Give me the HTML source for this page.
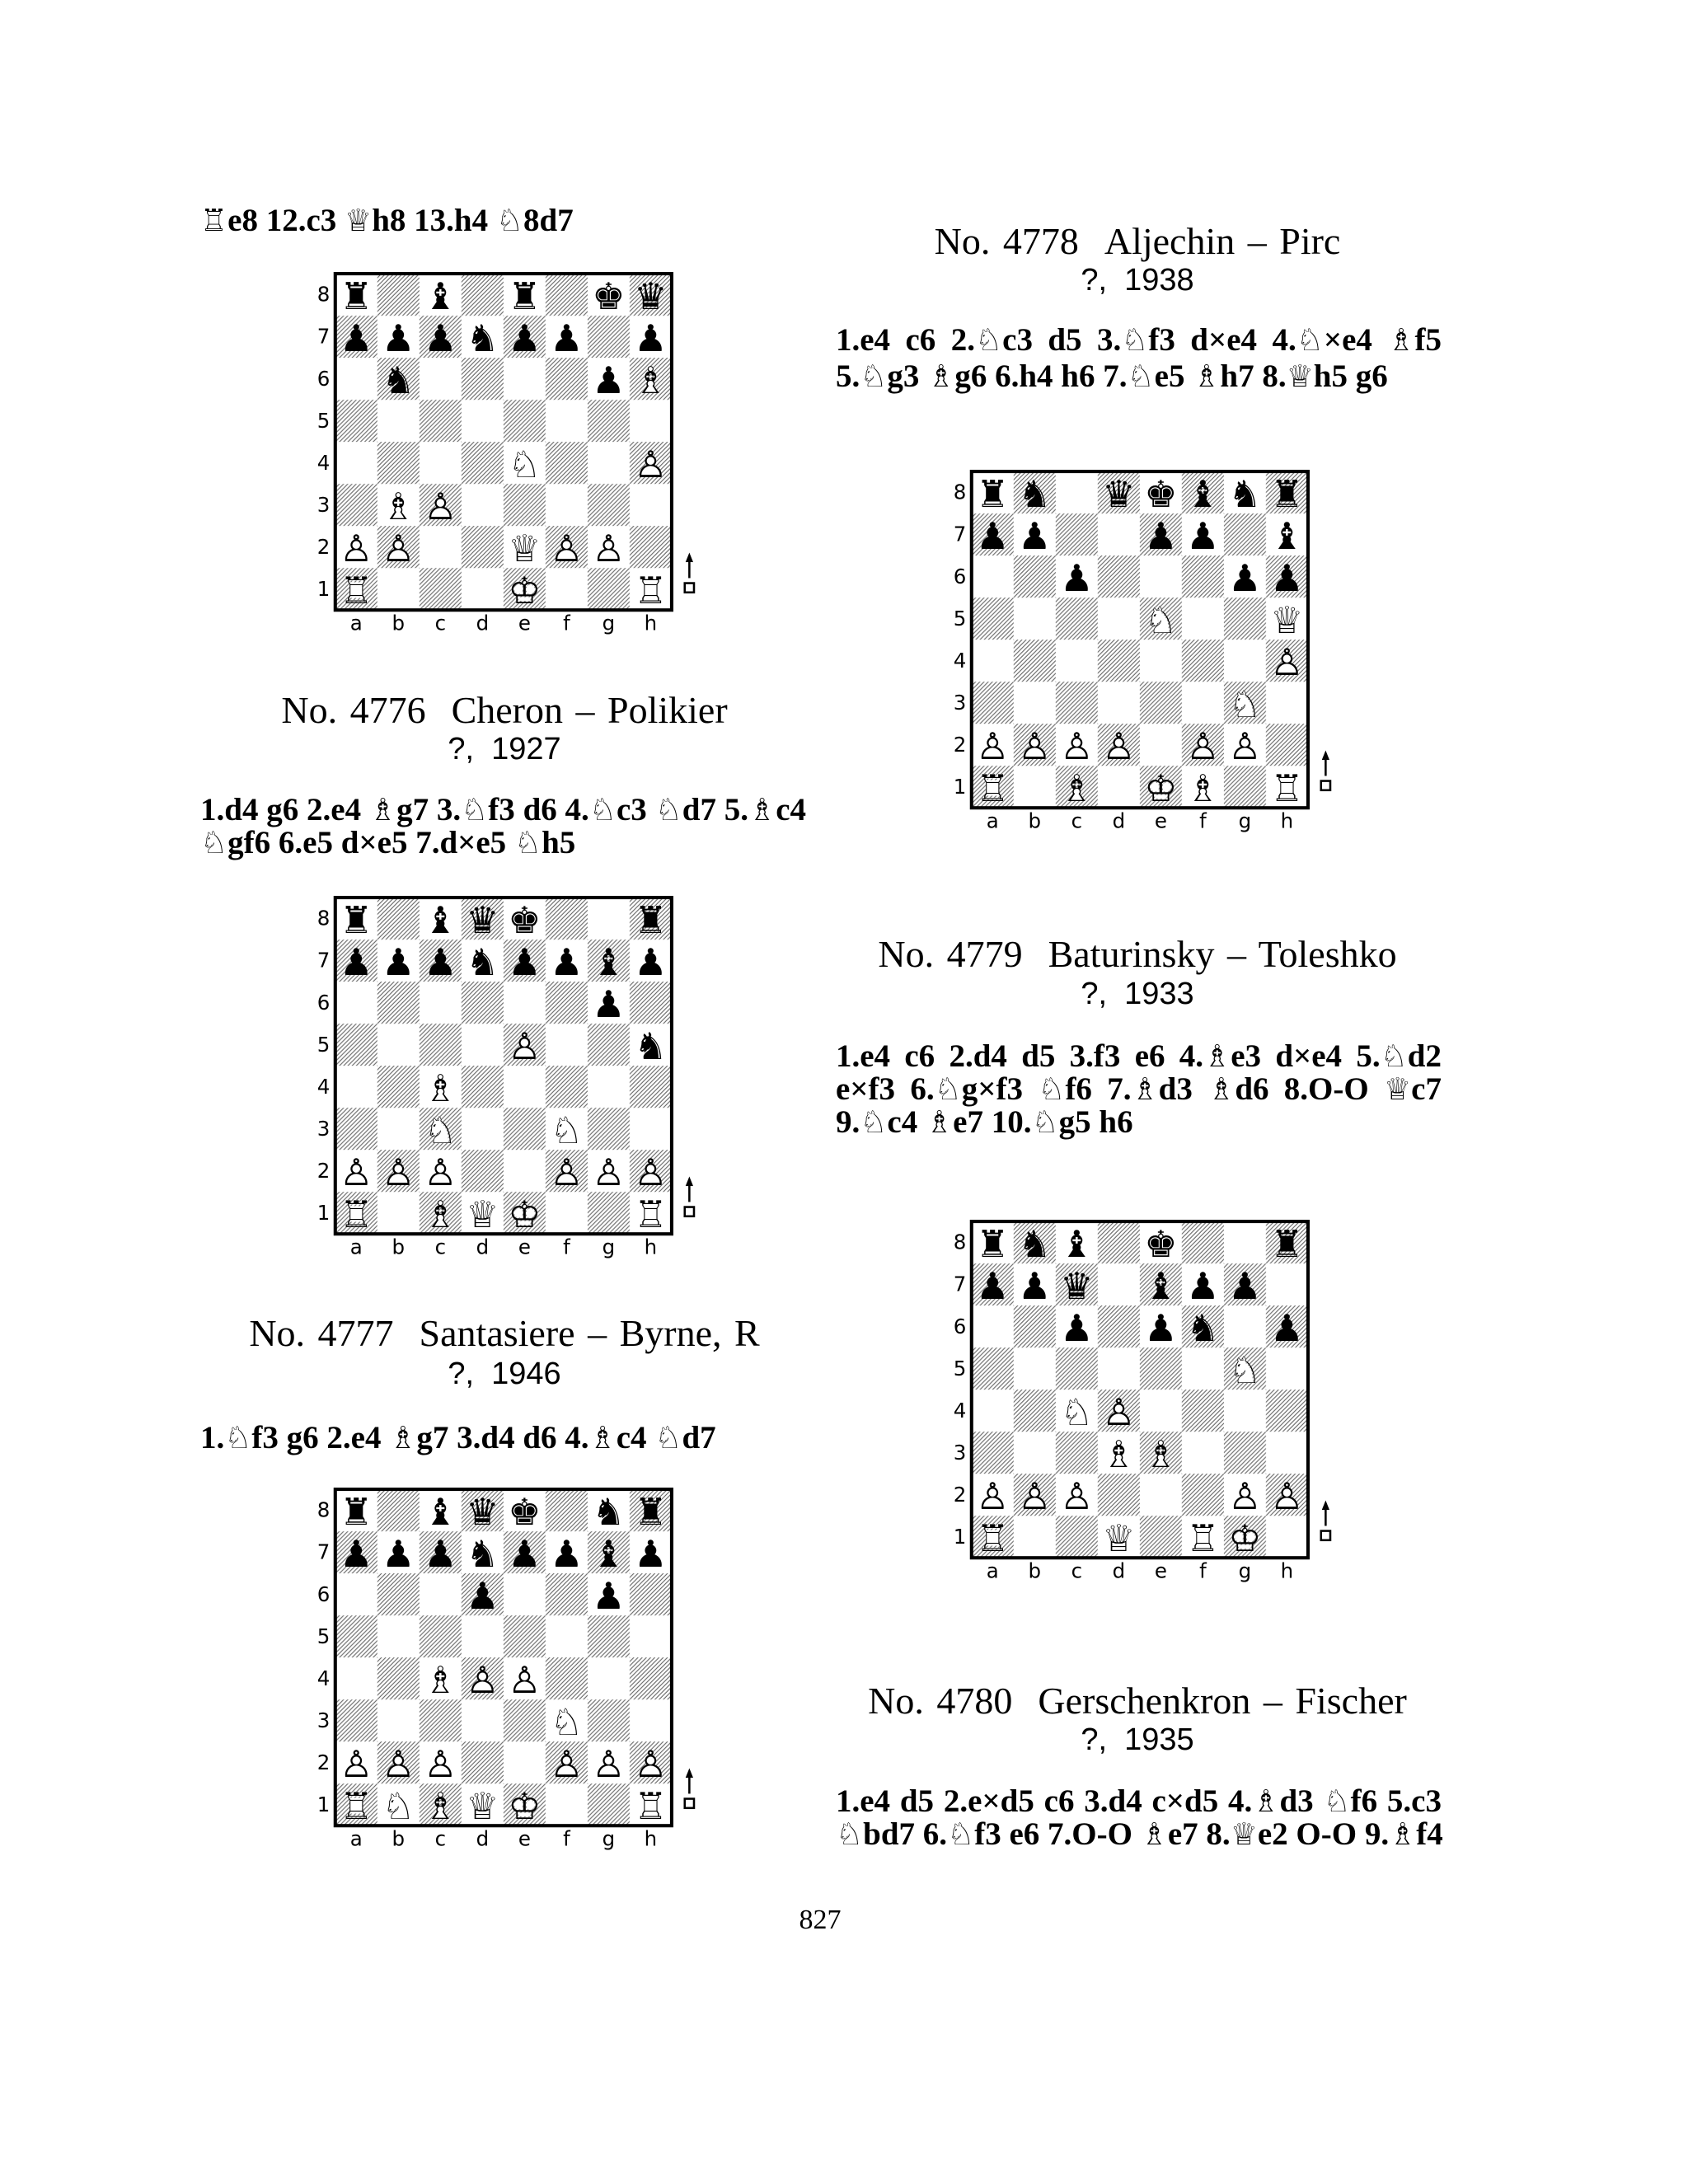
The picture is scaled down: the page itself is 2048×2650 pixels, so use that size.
<!DOCTYPE html>
<html><head><meta charset="utf-8">
<style>
body{margin:0;background:#fff;}
#p{position:relative;width:2048px;height:2650px;overflow:hidden;background:#fff;font-family:"Liberation Serif",serif;color:#000;}
.t{position:absolute;white-space:nowrap;line-height:40px;}
.ti{font-size:46px;line-height:46px;text-align:center;width:800px;word-spacing:4px;}
.su{font-family:"Liberation Sans",sans-serif;font-size:38px;text-align:center;width:400px;}
.mv{font-size:39px;font-weight:bold;width:735px;text-align:justify;text-align-last:justify;}
.ml{text-align-last:left;}
.mv span{font-family:"DejaVu Sans",sans-serif;font-weight:normal;font-size:37px;}
svg text{font-family:"DejaVu Sans",sans-serif;font-size:44px;text-anchor:middle;}
svg text.l{font-size:24px;}
svg .f{fill:#fff;}
.b{position:absolute;}
</style></head><body><div id="p">
<svg width="0" height="0" style="position:absolute">
<defs>
<pattern id="h" width="5" height="5" patternUnits="userSpaceOnUse"><path d="M-1,1 l2,-2 M0,5 l5,-5 M4,6 l2,-2" stroke="#555" stroke-width="1"/></pattern>
<pattern id="c" width="100" height="100" patternUnits="userSpaceOnUse"><rect width="100" height="100" fill="#fff"/><rect x="50" width="50" height="50" fill="url(#h)"/><rect y="50" width="50" height="50" fill="url(#h)"/></pattern>
<g id="fr"><rect width="400" height="400" fill="url(#c)"/><rect width="400" height="400" fill="none" stroke="#000" stroke-width="4"/>
<g>
<text class="l" x="-14" y="33">8</text><text class="l" x="-14" y="83">7</text><text class="l" x="-14" y="133">6</text><text class="l" x="-14" y="183">5</text><text class="l" x="-14" y="233">4</text><text class="l" x="-14" y="283">3</text><text class="l" x="-14" y="333">2</text><text class="l" x="-14" y="383">1</text>
<text class="l" x="25" y="424">a</text><text class="l" x="75" y="424">b</text><text class="l" x="125" y="424">c</text><text class="l" x="175" y="424">d</text><text class="l" x="225" y="424">e</text><text class="l" x="275" y="424">f</text><text class="l" x="325" y="424">g</text><text class="l" x="375" y="424">h</text>
</g>
<g stroke="#000" fill="none" stroke-width="2.5" transform="translate(421,0)"><path d="M0,335 V362"/><path d="M-4,343 L0,333 L4,343" fill="#000" stroke-width="1"/><rect x="-5.5" y="368" width="11" height="11"/></g>
</g>
</defs></svg>

<!-- LEFT COLUMN -->
<div class="t mv ml" style="left:243px;top:248px;"><span>♖</span>e8 12.c3 <span>♕</span>h8 13.h4 <span>♘</span>8d7</div>

<!-- Board 1 -->
<svg class="b" style="left:368px;top:330px" width="500" height="449" viewBox="-38 -2 490 440">
<use href="#fr"/>
<text x="25" y="42">♜</text><text x="125" y="42">♝</text><text x="225" y="42">♜</text><text x="325" y="42">♚</text><text x="375" y="42">♛</text>
<text x="25" y="92">♟</text><text x="75" y="92">♟</text><text x="125" y="92">♟</text><text x="175" y="92">♞</text><text x="225" y="92">♟</text><text x="275" y="92">♟</text><text x="375" y="92">♟</text>
<text x="75" y="142">♞</text><text x="325" y="142">♟</text><text class="f" x="375" y="142">♝</text><text x="375" y="142">♗</text>
<text class="f" x="225" y="242">♞</text><text x="225" y="242">♘</text><text class="f" x="375" y="242">♟</text><text x="375" y="242">♙</text>
<text class="f" x="75" y="292">♝</text><text x="75" y="292">♗</text><text class="f" x="125" y="292">♟</text><text x="125" y="292">♙</text>
<text class="f" x="25" y="342">♟</text><text x="25" y="342">♙</text><text class="f" x="75" y="342">♟</text><text x="75" y="342">♙</text><text class="f" x="225" y="342">♛</text><text x="225" y="342">♕</text><text class="f" x="275" y="342">♟</text><text x="275" y="342">♙</text><text class="f" x="325" y="342">♟</text><text x="325" y="342">♙</text>
<text class="f" x="25" y="392">♜</text><text x="25" y="392">♖</text><text class="f" x="225" y="392">♚</text><text x="225" y="392">♔</text><text class="f" x="375" y="392">♜</text><text x="375" y="392">♖</text>
</svg>

<div class="t ti" style="left:212px;top:839px;">No. 4776 &nbsp;Cheron – Polikier</div>
<div class="t su" style="left:412px;top:889px;">?,&nbsp; 1927</div>
<div class="t mv" style="left:243px;top:963px;">1.d4 g6 2.e4 <span>♗</span>g7 3.<span>♘</span>f3 d6 4.<span>♘</span>c3 <span>♘</span>d7 5.<span>♗</span>c4</div>
<div class="t mv ml" style="left:243px;top:1003px;"><span>♘</span>gf6 6.e5 d×e5 7.d×e5 <span>♘</span>h5</div>

<!-- Board 2 -->
<svg class="b" style="left:368px;top:1087px" width="500" height="449" viewBox="-38 -2 490 440">
<use href="#fr"/>
<text x="25" y="42">♜</text><text x="125" y="42">♝</text><text x="175" y="42">♛</text><text x="225" y="42">♚</text><text x="375" y="42">♜</text>
<text x="25" y="92">♟</text><text x="75" y="92">♟</text><text x="125" y="92">♟</text><text x="175" y="92">♞</text><text x="225" y="92">♟</text><text x="275" y="92">♟</text><text x="325" y="92">♝</text><text x="375" y="92">♟</text>
<text x="325" y="142">♟</text>
<text class="f" x="225" y="192">♟</text><text x="225" y="192">♙</text><text x="375" y="192">♞</text>
<text class="f" x="125" y="242">♝</text><text x="125" y="242">♗</text>
<text class="f" x="125" y="292">♞</text><text x="125" y="292">♘</text><text class="f" x="275" y="292">♞</text><text x="275" y="292">♘</text>
<text class="f" x="25" y="342">♟</text><text x="25" y="342">♙</text><text class="f" x="75" y="342">♟</text><text x="75" y="342">♙</text><text class="f" x="125" y="342">♟</text><text x="125" y="342">♙</text><text class="f" x="275" y="342">♟</text><text x="275" y="342">♙</text><text class="f" x="325" y="342">♟</text><text x="325" y="342">♙</text><text class="f" x="375" y="342">♟</text><text x="375" y="342">♙</text>
<text class="f" x="25" y="392">♜</text><text x="25" y="392">♖</text><text class="f" x="125" y="392">♝</text><text x="125" y="392">♗</text><text class="f" x="175" y="392">♛</text><text x="175" y="392">♕</text><text class="f" x="225" y="392">♚</text><text x="225" y="392">♔</text><text class="f" x="375" y="392">♜</text><text x="375" y="392">♖</text>
</svg>

<div class="t ti" style="left:212px;top:1595px;">No. 4777 &nbsp;Santasiere – Byrne, R</div>
<div class="t su" style="left:412px;top:1647px;">?,&nbsp; 1946</div>
<div class="t mv ml" style="left:243px;top:1725px;">1.<span>♘</span>f3 g6 2.e4 <span>♗</span>g7 3.d4 d6 4.<span>♗</span>c4 <span>♘</span>d7</div>

<!-- Board 3 -->
<svg class="b" style="left:368px;top:1805px" width="500" height="449" viewBox="-38 -2 490 440">
<use href="#fr"/>
<text x="25" y="42">♜</text><text x="125" y="42">♝</text><text x="175" y="42">♛</text><text x="225" y="42">♚</text><text x="325" y="42">♞</text><text x="375" y="42">♜</text>
<text x="25" y="92">♟</text><text x="75" y="92">♟</text><text x="125" y="92">♟</text><text x="175" y="92">♞</text><text x="225" y="92">♟</text><text x="275" y="92">♟</text><text x="325" y="92">♝</text><text x="375" y="92">♟</text>
<text x="175" y="142">♟</text><text x="325" y="142">♟</text>
<text class="f" x="125" y="242">♝</text><text x="125" y="242">♗</text><text class="f" x="175" y="242">♟</text><text x="175" y="242">♙</text><text class="f" x="225" y="242">♟</text><text x="225" y="242">♙</text>
<text class="f" x="275" y="292">♞</text><text x="275" y="292">♘</text>
<text class="f" x="25" y="342">♟</text><text x="25" y="342">♙</text><text class="f" x="75" y="342">♟</text><text x="75" y="342">♙</text><text class="f" x="125" y="342">♟</text><text x="125" y="342">♙</text><text class="f" x="275" y="342">♟</text><text x="275" y="342">♙</text><text class="f" x="325" y="342">♟</text><text x="325" y="342">♙</text><text class="f" x="375" y="342">♟</text><text x="375" y="342">♙</text>
<text class="f" x="25" y="392">♜</text><text x="25" y="392">♖</text><text class="f" x="75" y="392">♞</text><text x="75" y="392">♘</text><text class="f" x="125" y="392">♝</text><text x="125" y="392">♗</text><text class="f" x="175" y="392">♛</text><text x="175" y="392">♕</text><text class="f" x="225" y="392">♚</text><text x="225" y="392">♔</text><text class="f" x="375" y="392">♜</text><text x="375" y="392">♖</text>
</svg>

<!-- RIGHT COLUMN -->
<div class="t ti" style="left:980px;top:270px;">No. 4778 &nbsp;Aljechin – Pirc</div>
<div class="t su" style="left:1180px;top:320px;">?,&nbsp; 1938</div>
<div class="t mv" style="left:1014px;top:393px;">1.e4 c6 2.<span>♘</span>c3 d5 3.<span>♘</span>f3 d×e4 4.<span>♘</span>×e4 <span>♗</span>f5</div>
<div class="t mv ml" style="left:1014px;top:437px;">5.<span>♘</span>g3 <span>♗</span>g6 6.h4 h6 7.<span>♘</span>e5 <span>♗</span>h7 8.<span>♕</span>h5 g6</div>

<!-- Board 4 -->
<svg class="b" style="left:1140px;top:570px" width="500" height="449" viewBox="-38 -2 490 440">
<use href="#fr"/>
<text x="25" y="42">♜</text><text x="75" y="42">♞</text><text x="175" y="42">♛</text><text x="225" y="42">♚</text><text x="275" y="42">♝</text><text x="325" y="42">♞</text><text x="375" y="42">♜</text>
<text x="25" y="92">♟</text><text x="75" y="92">♟</text><text x="225" y="92">♟</text><text x="275" y="92">♟</text><text x="375" y="92">♝</text>
<text x="125" y="142">♟</text><text x="325" y="142">♟</text><text x="375" y="142">♟</text>
<text class="f" x="225" y="192">♞</text><text x="225" y="192">♘</text><text class="f" x="375" y="192">♛</text><text x="375" y="192">♕</text>
<text class="f" x="375" y="242">♟</text><text x="375" y="242">♙</text>
<text class="f" x="325" y="292">♞</text><text x="325" y="292">♘</text>
<text class="f" x="25" y="342">♟</text><text x="25" y="342">♙</text><text class="f" x="75" y="342">♟</text><text x="75" y="342">♙</text><text class="f" x="125" y="342">♟</text><text x="125" y="342">♙</text><text class="f" x="175" y="342">♟</text><text x="175" y="342">♙</text><text class="f" x="275" y="342">♟</text><text x="275" y="342">♙</text><text class="f" x="325" y="342">♟</text><text x="325" y="342">♙</text>
<text class="f" x="25" y="392">♜</text><text x="25" y="392">♖</text><text class="f" x="125" y="392">♝</text><text x="125" y="392">♗</text><text class="f" x="225" y="392">♚</text><text x="225" y="392">♔</text><text class="f" x="275" y="392">♝</text><text x="275" y="392">♗</text><text class="f" x="375" y="392">♜</text><text x="375" y="392">♖</text>
</svg>

<div class="t ti" style="left:980px;top:1135px;">No. 4779 &nbsp;Baturinsky – Toleshko</div>
<div class="t su" style="left:1180px;top:1186px;">?,&nbsp; 1933</div>
<div class="t mv" style="left:1014px;top:1262px;">1.e4 c6 2.d4 d5 3.f3 e6 4.<span>♗</span>e3 d×e4 5.<span>♘</span>d2</div>
<div class="t mv" style="left:1014px;top:1302px;">e×f3 6.<span>♘</span>g×f3 <span>♘</span>f6 7.<span>♗</span>d3 <span>♗</span>d6 8.O-O <span>♕</span>c7</div>
<div class="t mv ml" style="left:1014px;top:1342px;">9.<span>♘</span>c4 <span>♗</span>e7 10.<span>♘</span>g5 h6</div>

<!-- Board 5 -->
<svg class="b" style="left:1140px;top:1480px" width="500" height="449" viewBox="-38 -2 490 440">
<use href="#fr"/>
<text x="25" y="42">♜</text><text x="75" y="42">♞</text><text x="125" y="42">♝</text><text x="225" y="42">♚</text><text x="375" y="42">♜</text>
<text x="25" y="92">♟</text><text x="75" y="92">♟</text><text x="125" y="92">♛</text><text x="225" y="92">♝</text><text x="275" y="92">♟</text><text x="325" y="92">♟</text>
<text x="125" y="142">♟</text><text x="225" y="142">♟</text><text x="275" y="142">♞</text><text x="375" y="142">♟</text>
<text class="f" x="325" y="192">♞</text><text x="325" y="192">♘</text>
<text class="f" x="125" y="242">♞</text><text x="125" y="242">♘</text><text class="f" x="175" y="242">♟</text><text x="175" y="242">♙</text>
<text class="f" x="175" y="292">♝</text><text x="175" y="292">♗</text><text class="f" x="225" y="292">♝</text><text x="225" y="292">♗</text>
<text class="f" x="25" y="342">♟</text><text x="25" y="342">♙</text><text class="f" x="75" y="342">♟</text><text x="75" y="342">♙</text><text class="f" x="125" y="342">♟</text><text x="125" y="342">♙</text><text class="f" x="325" y="342">♟</text><text x="325" y="342">♙</text><text class="f" x="375" y="342">♟</text><text x="375" y="342">♙</text>
<text class="f" x="25" y="392">♜</text><text x="25" y="392">♖</text><text class="f" x="175" y="392">♛</text><text x="175" y="392">♕</text><text class="f" x="275" y="392">♜</text><text x="275" y="392">♖</text><text class="f" x="325" y="392">♚</text><text x="325" y="392">♔</text>
</svg>

<div class="t ti" style="left:980px;top:2041px;">No. 4780 &nbsp;Gerschenkron – Fischer</div>
<div class="t su" style="left:1180px;top:2091px;">?,&nbsp; 1935</div>
<div class="t mv" style="left:1014px;top:2166px;">1.e4 d5 2.e×d5 c6 3.d4 c×d5 4.<span>♗</span>d3 <span>♘</span>f6 5.c3</div>
<div class="t mv" style="left:1014px;top:2206px;"><span>♘</span>bd7 6.<span>♘</span>f3 e6 7.O-O <span>♗</span>e7 8.<span>♕</span>e2 O-O 9.<span>♗</span>f4</div>

<div class="t" style="left:945px;top:2310px;width:100px;text-align:center;font-size:34px;">827</div>
</div></body></html>
